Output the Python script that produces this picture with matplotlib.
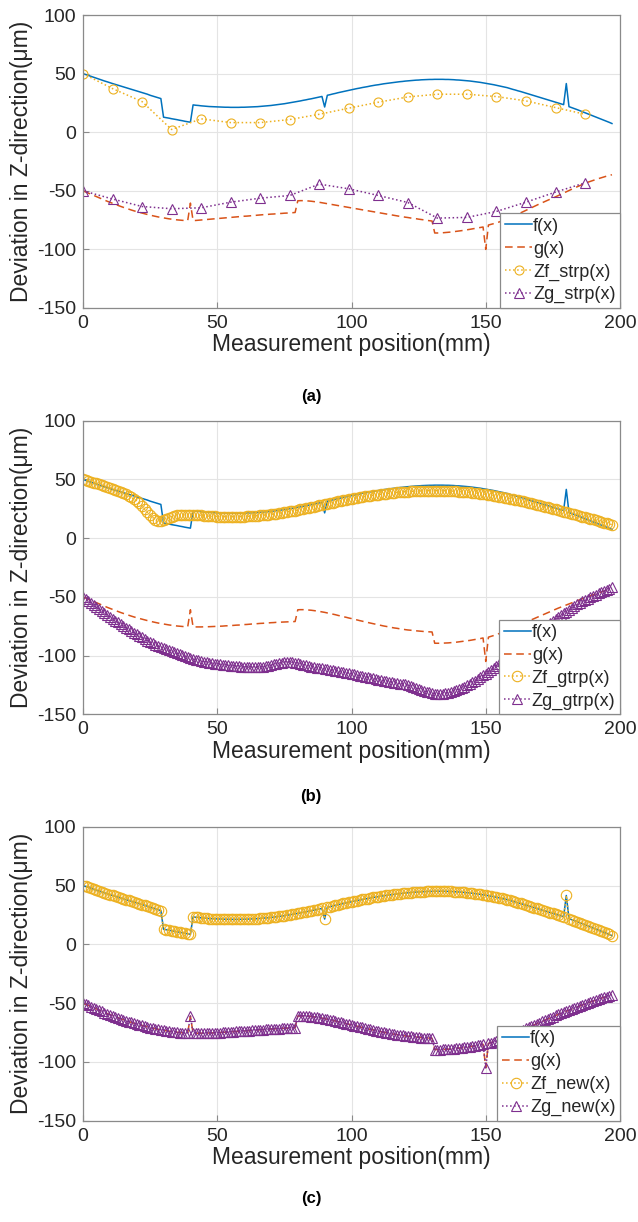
import numpy as np
import matplotlib
matplotlib.use("Agg")
import matplotlib.pyplot as plt

plt.rcParams['font.family'] = ['Liberation Sans', 'DejaVu Sans']
plt.rcParams['axes.unicode_minus'] = False

# ---- measured profiles (one value per mm, 0..197 mm) ----
f_vals = [
    50.0, 49.2, 48.4, 47.6, 46.8, 46.0, 45.2, 44.5, 43.7, 43.0,
    42.2, 41.5, 40.8, 40.1, 39.4, 38.7, 38.0, 37.3, 36.6, 35.9,
    35.2, 34.5, 33.8, 33.1, 32.4, 31.5, 30.8, 30.1, 29.4, 28.7,
    12.8, 12.4, 12.0, 11.5, 11.1, 10.7, 10.2, 9.8, 9.3, 8.9, 8.5,
    23.3, 23.0, 22.8, 22.5, 22.3, 22.1, 21.9, 21.8, 21.7, 21.6,
    21.5, 21.4, 21.3, 21.3, 21.2, 21.2, 21.2, 21.2, 21.3, 21.3,
    21.4, 21.5, 21.6, 21.7, 21.8, 22.0, 22.2, 22.4, 22.6, 22.8,
    23.1, 23.4, 23.7, 24.0, 24.3, 24.7, 25.1, 25.5, 25.9, 26.3,
    26.7, 27.2, 27.6, 28.1, 28.5, 29.0, 29.5, 30.0, 30.5,
    21.5,
    31.5, 32.0, 32.6, 33.1, 33.7, 34.2, 34.7, 35.2, 35.7, 36.2,
    36.7, 37.2, 37.6, 38.1, 38.5, 38.9, 39.4, 39.8, 40.2, 40.5,
    40.9, 41.3, 41.6, 41.9, 42.2, 42.5, 42.8, 43.1, 43.3, 43.6,
    43.8, 44.0, 44.2, 44.4, 44.5, 44.7, 44.8, 44.9, 45.0, 45.0,
    45.1, 45.1, 45.1, 45.1, 45.0, 45.0, 44.9, 44.8, 44.6, 44.5,
    44.3, 44.1, 43.9, 43.7, 43.4, 43.1, 42.8, 42.5, 42.1, 41.7,
    41.3, 40.9, 40.5, 40.0, 39.5, 39.0, 38.5, 38.0, 37.3, 36.6,
    36.0, 35.3, 34.7, 34.0, 33.3, 32.6, 31.9, 31.2, 30.5, 29.8,
    29.1, 28.4, 27.7, 27.0, 26.3, 25.6, 24.9, 24.2, 23.5,
    41.5,
    21.8, 21.0, 20.1, 19.3, 18.4, 17.5, 16.6, 15.7, 14.8, 13.9,
    13.0, 12.1, 11.2, 10.3, 9.4, 8.4, 7.4,
]

g_vals = [
    -50.0, -51.0, -52.0, -53.0, -54.0, -55.0, -56.0, -57.0, -58.0, -58.9,
    -59.8, -60.7, -61.6, -62.5, -63.3, -64.1, -64.9, -65.7, -66.4, -67.1,
    -67.8, -68.4, -69.0, -69.6, -70.2, -70.8, -71.3, -71.8, -72.3, -72.7,
    -73.1, -73.5, -73.9, -74.2, -74.5, -74.8, -75.0, -75.2, -75.4, -75.5,
    -61.0,
    -75.6, -75.6, -75.6, -75.6, -75.5, -75.5, -75.4, -75.3, -75.2, -75.1,
    -75.0, -74.9, -74.7, -74.6, -74.4, -74.3, -74.1, -74.0, -73.8, -73.6,
    -73.5, -73.3, -73.1, -73.0, -72.8, -72.6, -72.5, -72.3, -72.2, -72.0,
    -71.9, -71.7, -71.6, -71.5, -71.4, -71.3, -71.2, -71.1, -71.0,
    -61.0, -60.9, -60.9, -61.0, -61.2, -61.4, -61.7, -62.0, -62.4, -62.8,
    -63.2, -63.7, -64.2, -64.7, -65.2, -65.8, -66.3, -66.9, -67.4, -68.0,
    -68.5, -69.1, -69.6, -70.2, -70.7, -71.3, -71.8, -72.3, -72.8, -73.3,
    -73.8, -74.3, -74.8, -75.2, -75.6, -76.1, -76.5, -76.8, -77.2, -77.5,
    -77.9, -78.2, -78.4, -78.7, -78.9, -79.1, -79.3, -79.5, -79.6, -79.8,
    -79.9,
    -89.5, -89.5, -89.5, -89.4, -89.3, -89.2, -89.0, -88.8, -88.6, -88.3,
    -88.0, -87.7, -87.4, -87.1, -86.7, -86.3, -85.9, -85.5, -85.0,
    -105.0,
    -84.3, -83.6, -82.9, -82.1, -81.3, -80.4, -79.5, -78.5, -77.5, -76.5,
    -75.5, -74.5, -73.5, -72.5, -71.5, -70.5, -69.5, -68.5, -67.5, -66.5,
    -65.5, -64.5, -63.5, -62.5, -61.5, -60.5, -59.6, -58.7, -57.8, -56.9,
    -56.0, -55.1, -54.2, -53.3, -52.4, -51.5, -50.6, -49.8, -49.0, -48.2,
    -47.4, -46.6, -45.8, -45.1, -44.4, -43.7, -43.0,
]

# g(x) as recorded for the straight-line reconstruction run
g_vals_a = [
    -50.0, -51.0, -52.0, -53.0, -54.0, -55.0, -56.0, -57.0, -58.0, -58.9,
    -59.8, -60.7, -61.6, -62.5, -63.3, -64.1, -64.9, -65.7, -66.4, -67.1,
    -67.8, -68.4, -69.0, -69.6, -70.2, -70.8, -71.3, -71.8, -72.3, -72.7,
    -73.1, -73.5, -73.9, -74.2, -74.5, -74.8, -75.0, -75.2, -75.3, -75.4,
    -60.5,
    -75.4, -75.3, -75.1, -74.9, -74.7, -74.5, -74.3, -74.1, -73.9, -73.7,
    -73.5, -73.3, -73.1, -72.9, -72.7, -72.5, -72.3, -72.1, -71.9, -71.7,
    -71.6, -71.4, -71.2, -71.0, -70.8, -70.6, -70.4, -70.3, -70.1, -69.9,
    -69.8, -69.6, -69.4, -69.3, -69.1, -69.0, -68.8, -68.7, -68.5,
    -58.5, -58.4, -58.4, -58.5, -58.7, -58.9, -59.2, -59.5, -59.8, -60.2,
    -60.6, -61.0, -61.4, -61.8, -62.2, -62.6, -63.0, -63.4, -63.8, -64.2,
    -64.6, -65.0, -65.4, -65.8, -66.2, -66.6, -67.0, -67.4, -67.8, -68.2,
    -68.6, -69.0, -69.4, -69.8, -70.2, -70.6, -71.0, -71.4, -71.8, -72.1,
    -72.5, -72.8, -73.2, -73.5, -73.8, -74.2, -74.5, -74.8, -75.2, -75.5,
    -75.8,
    -86.0, -86.0, -85.9, -85.8, -85.6, -85.4, -85.2, -84.9, -84.6, -84.3,
    -84.0, -83.7, -83.3, -82.9, -82.5, -82.1, -81.7, -81.3, -80.9,
    -100.0,
    -79.2, -78.6, -78.0, -77.3, -76.6, -75.8, -75.0, -74.1, -73.1, -72.1,
    -71.0, -69.9, -68.8, -67.7, -66.6, -65.5, -64.4, -63.3, -62.2, -61.2,
    -60.2, -59.2, -58.2, -57.2, -56.2, -55.2, -54.1, -53.0, -51.9, -50.8,
    -49.7, -48.6, -47.6, -46.6, -45.6, -44.6, -43.6, -42.7, -41.9, -41.1,
    -40.3, -39.6, -38.9, -38.2, -37.5, -36.9, -36.3,
]

# straight-line reconstruction, sampled every 11 mm
strp_x = [0, 11, 22, 33, 44, 55, 66, 77, 88, 99, 110, 121, 132, 143, 154, 165, 176, 187]
zf_strp = [50.0, 37.2, 26.1, 2.3, 11.4, 8.2, 8.2, 10.8, 15.3, 20.5,
           25.6, 30.1, 32.4, 32.4, 30.4, 26.7, 21.0, 15.3]
zg_strp = [-50.0, -57.0, -63.4, -65.3, -64.5, -59.7, -56.3, -54.0, -44.3, -48.3,
           -54.0, -60.0, -73.3, -72.7, -67.6, -59.7, -51.1, -43.2]

# global reconstruction (one value per mm)
zf_gtrp = [
    50.0, 49.4, 48.7, 48.0, 47.3, 46.6, 45.9, 45.2, 44.5, 43.7,
    42.9, 42.1, 41.2, 40.3, 39.3, 38.3, 37.2, 36.0, 34.7, 33.3,
    31.8, 29.6, 27.2, 24.6, 22.0, 19.6, 17.5, 15.8, 14.9, 14.9,
    15.6, 16.6, 17.5, 18.2, 18.8, 19.3, 19.6, 19.8, 19.9, 20.0,
    20.0, 19.9, 19.7, 19.5, 19.3, 19.1, 18.9, 18.7, 18.6, 18.5,
    18.4, 18.3, 18.3, 18.2, 18.2, 18.2, 18.2, 18.2, 18.3, 18.3,
    18.4, 18.5, 18.6, 18.8, 18.9, 19.1, 19.3, 19.5, 19.8, 20.0,
    20.3, 20.6, 20.9, 21.2, 21.6, 21.9, 22.3, 22.7, 23.1, 23.5,
    24.0, 24.4, 24.9, 25.3, 25.8, 26.3, 26.8, 27.3, 27.8, 28.3,
    28.8, 29.3, 29.8, 30.3, 30.8, 31.3, 31.7, 32.2, 32.6, 33.1,
    33.5, 33.9, 34.3, 34.7, 35.1, 35.5, 35.8, 36.2, 36.5, 36.8,
    37.1, 37.4, 37.7, 38.0, 38.2, 38.5, 38.7, 38.9, 39.1, 39.3,
    39.5, 39.6, 39.8, 39.9, 40.0, 40.1, 40.2, 40.3, 40.3, 40.4,
    40.4, 40.4, 40.4, 40.4, 40.3, 40.3, 40.2, 40.1, 40.0, 39.9,
    39.7, 39.6, 39.4, 39.2, 39.0, 38.7, 38.5, 38.2, 37.9, 37.6,
    37.3, 37.0, 36.6, 36.2, 35.8, 35.4, 35.0, 34.6, 34.1, 33.7,
    33.2, 32.7, 32.2, 31.7, 31.2, 30.7, 30.2, 29.6, 29.1, 28.5,
    28.0, 27.4, 26.8, 26.2, 25.6, 25.0, 24.4, 23.8, 23.2, 22.6,
    22.0, 21.4, 20.8, 20.2, 19.6, 19.0, 18.3, 17.7, 17.1, 16.5,
    15.9, 15.2, 14.6, 14.0, 13.3, 12.7, 12.1, 11.5,
]
zg_gtrp = [
    -50.0, -51.8, -53.6, -55.4, -57.2, -59.0, -60.6, -62.2, -63.8, -65.4,
    -67.0, -68.6, -70.2, -71.8, -73.4, -74.9, -76.3, -77.7, -79.1, -80.5,
    -81.9, -83.3, -84.6, -85.9, -87.2, -88.5, -89.7, -90.8, -91.8, -92.8,
    -93.7, -94.6, -95.5, -96.4, -97.3, -98.2, -99.0, -99.8, -100.6, -101.4,
    -102.1, -102.8, -103.4, -104.0, -104.6, -105.1, -105.6, -106.0, -106.4, -106.8,
    -107.1, -107.4, -107.7, -108.0, -108.3, -108.5, -108.8, -109.0, -109.2, -109.4,
    -109.6, -109.8, -109.9, -110.0, -110.0, -110.0, -109.8, -109.5, -109.1, -108.6,
    -108.0, -107.4, -106.8, -106.3, -105.9, -105.6, -105.5, -105.5, -105.7, -106.0,
    -106.5, -107.0, -107.6, -108.2, -108.8, -109.3, -109.8, -110.2, -110.6, -111.0,
    -111.4, -111.8, -112.2, -112.6, -113.0, -113.4, -113.8, -114.2, -114.6, -115.0,
    -115.5, -116.0, -116.5, -117.0, -117.5, -118.0, -118.5, -119.0, -119.5, -120.0,
    -120.5, -121.0, -121.4, -121.8, -122.2, -122.6, -123.0, -123.4, -123.8, -124.2,
    -124.6, -125.2, -125.9, -126.6, -127.4, -128.2, -129.0, -129.8, -130.6, -131.3,
    -131.9, -132.3, -132.5, -132.5, -132.3, -132.0, -131.5, -130.9, -130.2, -129.4,
    -128.5, -127.5, -126.4, -125.2, -124.0, -122.7, -121.3, -119.9, -118.4, -116.9,
    -115.3, -113.7, -112.0, -110.3, -108.6, -106.8, -104.9, -103.0, -101.0, -99.0,
    -97.0, -95.0, -93.0, -91.0, -89.0, -87.0, -85.0, -83.2, -81.6, -80.0,
    -78.4, -76.8, -75.2, -73.6, -72.0, -70.4, -68.8, -67.2, -65.6, -64.0,
    -62.5, -61.0, -59.5, -58.0, -56.5, -55.0, -53.8, -52.6, -51.4, -50.2,
    -49.0, -48.0, -47.0, -46.0, -45.0, -44.0, -43.0, -42.0,
]

# proposed method reproduces the measured profiles point by point
zf_new = list(f_vals)
zg_new = list(g_vals)

x_mm = np.arange(len(f_vals))

xticks = [0, 50, 100, 150, 200]
yticks = [-150, -100, -50, 0, 50, 100]
xlabel = "Measurement position(mm)"
ylabel = "Deviation in Z-direction(\u03bcm)"
captions = ["(a)", "(b)", "(c)"]

C_F = '#0072BD'
C_G = '#D95319'
C_ZF = '#EDB120'
C_ZG = '#7E2F8E'
TXT = '#262626'
AX_C = '#8a8a8a'

W, H = 638, 1222
fig = plt.figure(figsize=(W / 100, H / 100), dpi=100)


def make_axes(top_px, bottom_px):
    left, right = 83, 620
    return fig.add_axes([left / W, 1 - bottom_px / H,
                         (right - left) / W, (bottom_px - top_px) / H])


def style(ax):
    ax.set_xlim(0, 200)
    ax.set_ylim(-150, 100)
    ax.set_xticks(xticks)
    ax.set_yticks(yticks)
    ax.grid(True, color='#e4e4e4', linewidth=0.8)
    ax.set_axisbelow(True)
    for s in ax.spines.values():
        s.set_color(AX_C)
        s.set_linewidth(0.9)
    ax.tick_params(direction='in', length=4, width=0.8, color=AX_C,
                   labelsize=14, labelcolor=TXT, pad=5)
    ax.set_xlabel(xlabel, fontsize=16.5, color=TXT, labelpad=1)
    ax.set_ylabel(ylabel, fontsize=16.5, color=TXT, labelpad=3)


def legend(ax, labels):
    leg = ax.legend(labels, loc='lower right', fontsize=13, frameon=True,
                    fancybox=False, framealpha=1, edgecolor=AX_C,
                    borderaxespad=0.0, handlelength=1.5, handletextpad=0.05,
                    labelspacing=0.32, borderpad=0.25)
    leg.get_frame().set_linewidth(0.9)
    for t in leg.get_texts():
        t.set_color(TXT)


mk = dict(markersize=6.5, markeredgewidth=0.8, markerfacecolor='none')
mk_dense = dict(markersize=7.5, markeredgewidth=0.8, markerfacecolor='none')

# (a) straight-line reconstruction
ax = make_axes(15, 308)
ax.plot(x_mm, f_vals, '-', color=C_F, lw=1.1)
ax.plot(x_mm, g_vals_a, '--', color=C_G, lw=1.1, dashes=(5, 3))
ax.plot(strp_x, zf_strp, ':', color=C_ZF, lw=1.1, marker='o', markeredgecolor=C_ZF, **mk)
ax.plot(strp_x, zg_strp, ':', color=C_ZG, lw=1.1, marker='^', markeredgecolor=C_ZG, **mk)
style(ax)
legend(ax, ['f(x)', 'g(x)', 'Zf_strp(x)', 'Zg_strp(x)'])

# (b) global reconstruction
ax = make_axes(420.7, 714.3)
ax.plot(x_mm, f_vals, '-', color=C_F, lw=1.1)
ax.plot(x_mm, g_vals, '--', color=C_G, lw=1.1, dashes=(5, 3))
ax.plot(x_mm, zf_gtrp, ':', color=C_ZF, lw=1.1, marker='o', markeredgecolor=C_ZF, **mk_dense)
ax.plot(x_mm, zg_gtrp, ':', color=C_ZG, lw=1.1, marker='^', markeredgecolor=C_ZG, **mk_dense)
style(ax)
legend(ax, ['f(x)', 'g(x)', 'Zf_gtrp(x)', 'Zg_gtrp(x)'])

# (c) proposed method
ax = make_axes(826.7, 1120.7)
ax.plot(x_mm, f_vals, '-', color=C_F, lw=1.1)
ax.plot(x_mm, g_vals, '--', color=C_G, lw=1.1, dashes=(5, 3))
ax.plot(x_mm, zf_new, ':', color=C_ZF, lw=1.1, marker='o', markeredgecolor=C_ZF, **mk_dense)
ax.plot(x_mm, zg_new, ':', color=C_ZG, lw=1.1, marker='^', markeredgecolor=C_ZG, **mk_dense)
style(ax)
legend(ax, ['f(x)', 'g(x)', 'Zf_new(x)', 'Zg_new(x)'])

for cap, ypx in zip(captions, [397, 797, 1199]):
    fig.text(311 / W, 1 - ypx / H, cap, ha='center', va='center',
             fontsize=12, fontweight='bold', color='black')

fig.savefig('out.png', dpi=100)
